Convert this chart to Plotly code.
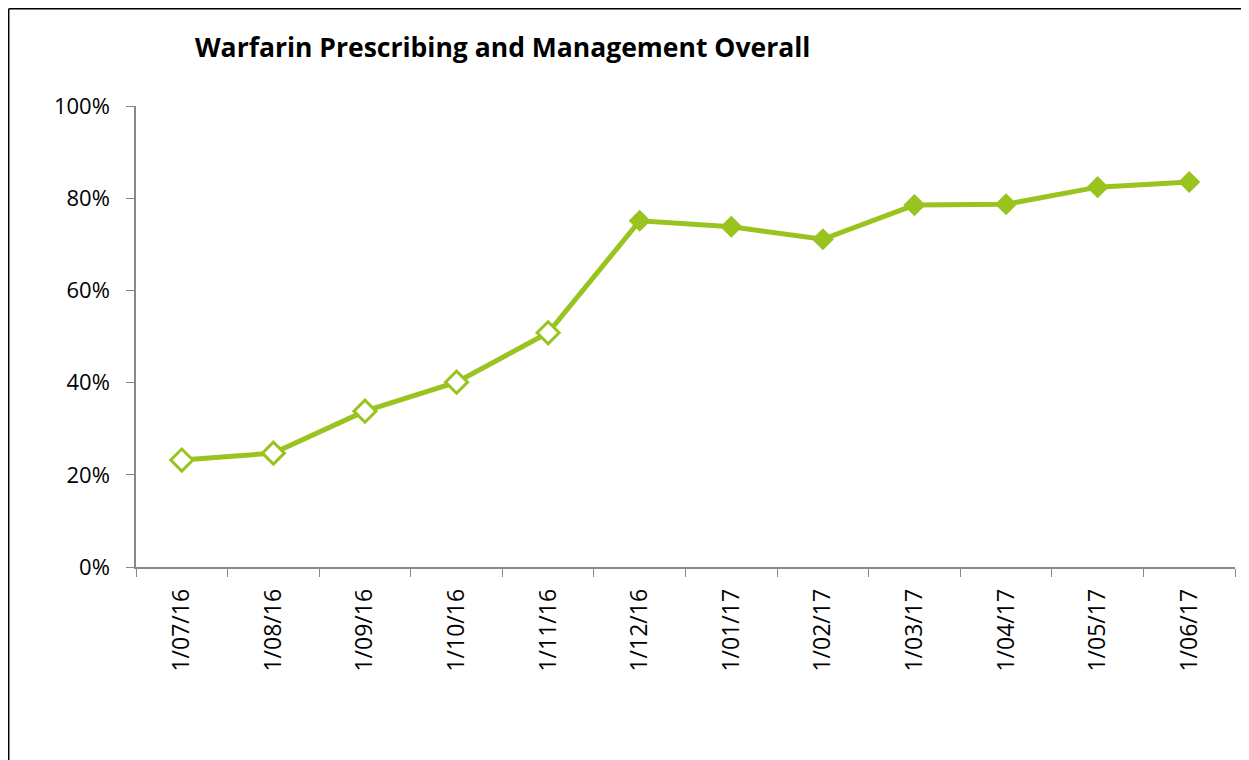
import plotly.graph_objects as go

dates = ["1/07/16", "1/08/16", "1/09/16", "1/10/16", "1/11/16", "1/12/16",
         "1/01/17", "1/02/17", "1/03/17", "1/04/17", "1/05/17", "1/06/17"]
values = [0.232, 0.247, 0.338, 0.401, 0.508, 0.751,
          0.738, 0.711, 0.785, 0.787, 0.824, 0.835]
hollow = [True, True, True, True, True, False, False, False, False, False, False, False]
y_ticks = [0, 0.2, 0.4, 0.6, 0.8, 1.0]

GREEN = "#99C420"

fig = go.Figure()
fig.add_trace(go.Scatter(
    x=dates, y=values, mode="lines+markers",
    line=dict(color=GREEN, width=5),
    marker=dict(symbol="diamond", size=17,
                color=["white" if h else GREEN for h in hollow],
                line=dict(color=GREEN, width=[3 if h else 0 for h in hollow])),
    showlegend=False,
))

OFF = 8  # page body margin
W, H = 1249 - OFF, 760 - OFF
L, R, T, B = 136 - OFF, 14, 106 - OFF, 193
pw, ph = W - L - R, H - T - B

def px(x):
    return (x - OFF - L) / pw

def py(y):
    return (H - B - (y - OFF)) / ph

fig.update_layout(
    width=W, height=H,
    margin=dict(l=L, r=R, t=T, b=B, autoexpand=False),
    paper_bgcolor="white", plot_bgcolor="white",
    font=dict(family="Open Sans, Liberation Sans, sans-serif", size=22, color="black"),
    title=dict(text="<b>Warfarin Prescribing and Management Overall</b>",
               font=dict(size=26.5, color="black"),
               xref="paper", x=px(195), xanchor="left",
               yref="container", y=1 - (48 - OFF) / H, yanchor="middle"),
    xaxis=dict(type="category", range=[-0.5, 11.5], tickson="boundaries",
               ticks="outside", ticklen=8, tickcolor="#888888",
               showline=True, linecolor="#888888", linewidth=1.5,
               showgrid=False, tickangle=-90, zeroline=False,
               ticklabelstandoff=11, tickfont=dict(size=23)),
    yaxis=dict(range=[0, 1.0], tickvals=y_ticks, tickformat=".0%",
               ticks="outside", ticklen=8, tickcolor="#888888",
               showline=True, linecolor="#888888", linewidth=1.5,
               showgrid=False, zeroline=False, ticklabelstandoff=12),
    shapes=[
        dict(type="line", xref="paper", yref="paper",
             x0=px(8.7), x1=px(8.7), y0=py(8.7), y1=py(800),
             line=dict(color="black", width=1.5)),
        dict(type="line", xref="paper", yref="paper",
             x0=px(8.7), x1=px(1247.5), y0=py(8.7), y1=py(8.7),
             line=dict(color="black", width=1.5)),
        dict(type="line", xref="paper", yref="paper",
             x0=px(1247.5), x1=px(1247.5), y0=py(8.7), y1=py(800),
             line=dict(color="#DDDDDD", width=1)),
    ],
)

fig.write_html("out.html")
